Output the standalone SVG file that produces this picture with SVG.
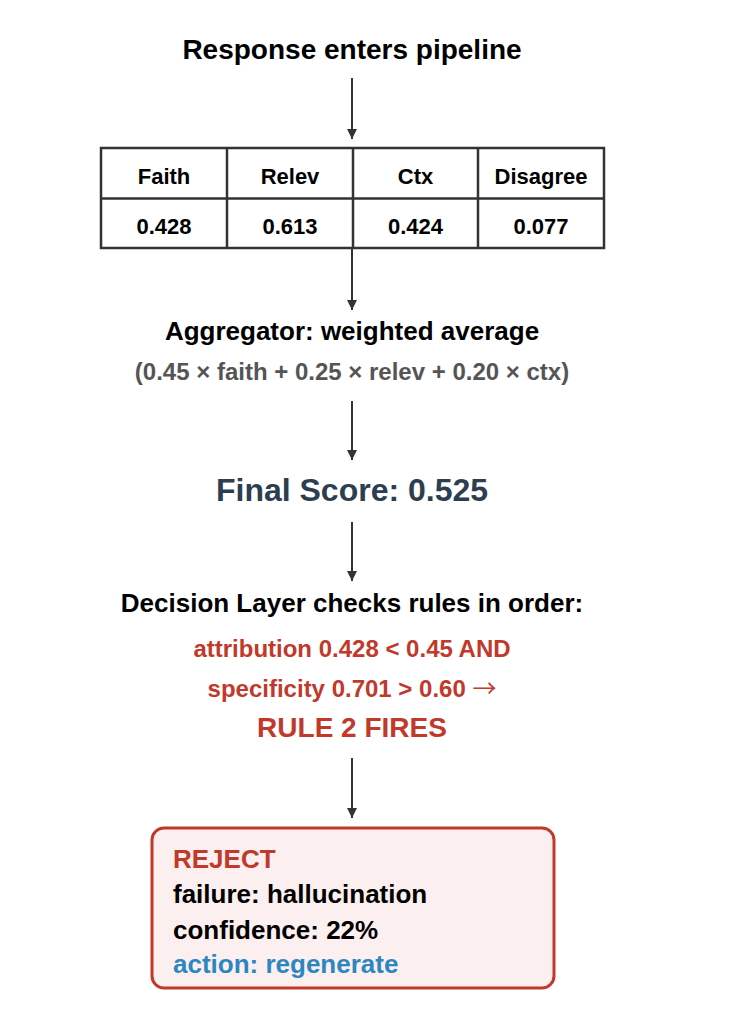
<svg xmlns="http://www.w3.org/2000/svg" width="754" height="1024" viewBox="0 0 754 1024">
<style>
text{font-family:"Liberation Sans",Arial,Helvetica,sans-serif;font-weight:bold;text-anchor:middle}
.t{font-size:28px;fill:#000}
.cell{font-size:22px;fill:#000}
.agg{font-size:26px;fill:#000}
.formula{font-size:24px;fill:#555}
.final{font-size:32px;fill:#2c3e50}
.dec{font-size:26px;fill:#000}
.rule{font-size:24px;fill:#c0392b}
.arr{font-family:"Noto Sans CJK SC",sans-serif;font-weight:normal}
.fires{font-size:28px;fill:#c0392b}
.box{font-size:26px;text-anchor:start}
.grid{fill:#fff;stroke:#333;stroke-width:2.5}
.conn{stroke:#333;stroke-width:2;fill:none;marker-end:url(#ah)}
</style>
<defs>
<marker id="ah" viewBox="0 0 10 10" refX="10" refY="5" markerWidth="5" markerHeight="5" orient="auto" markerUnits="strokeWidth">
<path d="M0,0 L10,5 L0,10 z" fill="#333"/>
</marker>
</defs>
<rect width="754" height="1024" fill="#fff"/>
<g id="connectors">
<line class="conn" x1="352" y1="78" x2="352" y2="139"/>
<line class="conn" x1="352" y1="249" x2="352" y2="310"/>
<line class="conn" x1="352" y1="401" x2="352" y2="460"/>
<line class="conn" x1="352" y1="522" x2="352" y2="581"/>
<line class="conn" x1="352" y1="758" x2="352" y2="818"/>
</g>
<g id="start">
<text class="t" x="352" y="59">Response enters pipeline</text>
</g>
<g id="scores-table">
<rect class="grid" x="101" y="148" width="503" height="100"/>
<line class="grid" x1="101" y1="198.5" x2="604" y2="198.5"/>
<line class="grid" x1="227" y1="148" x2="227" y2="248"/>
<line class="grid" x1="353" y1="148" x2="353" y2="248"/>
<line class="grid" x1="478" y1="148" x2="478" y2="248"/>
<text class="cell" x="164" y="184">Faith</text>
<text class="cell" x="290" y="184">Relev</text>
<text class="cell" x="415.5" y="184">Ctx</text>
<text class="cell" x="541" y="184">Disagree</text>
<text class="cell" x="164" y="234">0.428</text>
<text class="cell" x="290" y="234">0.613</text>
<text class="cell" x="415.5" y="234">0.424</text>
<text class="cell" x="541" y="234">0.077</text>
</g>
<g id="aggregator">
<text class="agg" x="352" y="340">Aggregator: weighted average</text>
<text class="formula" x="352" y="380">(0.45 × faith + 0.25 × relev + 0.20 × ctx)</text>
</g>
<g id="final-score">
<text class="final" x="352" y="501">Final Score: 0.525</text>
</g>
<g id="decision-layer">
<text class="dec" x="352" y="612">Decision Layer checks rules in order:</text>
<text class="rule" x="352" y="657">attribution 0.428 &lt; 0.45 AND</text>
<text class="rule" x="352" y="697">specificity 0.701 &gt; 0.60 <tspan class="arr">→</tspan></text>
<text class="fires" x="352" y="737">RULE 2 FIRES</text>
</g>
<g id="result">
<rect x="152" y="828" width="402" height="160" rx="12" ry="12" fill="#fcefef" stroke="#c0392b" stroke-width="3"/>
<text class="box" x="173" y="868" fill="#c0392b">REJECT</text>
<text class="box" x="173" y="903" fill="#000">failure: hallucination</text>
<text class="box" x="173" y="939" fill="#000">confidence: 22%</text>
<text class="box" x="173" y="973" fill="#2e86c1">action: regenerate</text>
</g>
</svg>
